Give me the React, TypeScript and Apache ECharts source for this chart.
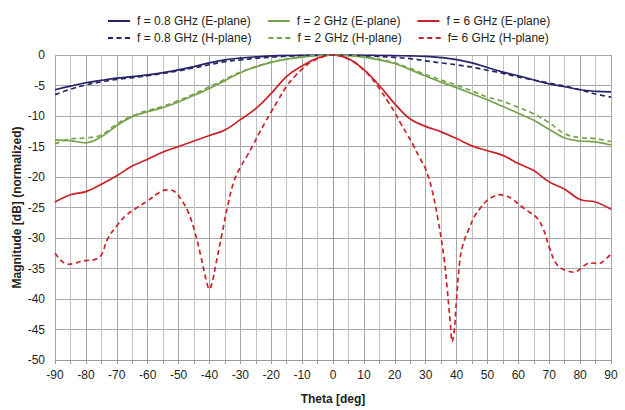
import React, { useEffect, useRef } from "react";
import * as echarts from "echarts";

const theta5 = [-90, -85, -80, -75, -70, -65, -60, -55, -50, -45, -40, -35, -30, -25, -20, -15, -10, -5, 0, 5, 10, 15, 20, 25, 30, 35, 40, 45, 50, 55, 60, 65, 70, 75, 80, 85, 90];

const e08 = [-5.7, -5.1, -4.55, -4.15, -3.8, -3.55, -3.25, -2.9, -2.45, -1.9, -1.3, -0.8, -0.5, -0.3, -0.15, -0.07, -0.03, 0, 0, -0.01, -0.02, -0.05, -0.1, -0.15, -0.22, -0.42, -0.75, -1.3, -2.05, -2.8, -3.4, -4.1, -4.75, -5.2, -5.7, -5.95, -6.05];
const h08 = [-6.5, -5.6, -4.9, -4.4, -4.0, -3.7, -3.4, -3.0, -2.6, -2.1, -1.6, -1.1, -0.8, -0.55, -0.35, -0.2, -0.08, -0.02, 0, -0.02, -0.12, -0.25, -0.4, -0.6, -0.95, -1.3, -1.6, -2.0, -2.5, -3.0, -3.6, -4.1, -4.6, -5.1, -5.7, -6.4, -6.9];
const e2 = [-13.9, -14.05, -14.4, -13.4, -11.6, -10.1, -9.3, -8.6, -7.7, -6.6, -5.5, -4.2, -2.9, -1.95, -1.2, -0.7, -0.35, -0.1, 0, -0.1, -0.35, -0.8, -1.4, -2.4, -3.45, -4.45, -5.35, -6.35, -7.35, -8.45, -9.55, -10.7, -12.2, -13.6, -14.1, -14.25, -14.75];
const h2 = [-14.6, -13.75, -13.6, -13.1, -11.3, -10.0, -9.1, -8.4, -7.45, -6.4, -5.2, -4.0, -2.8, -1.9, -1.15, -0.65, -0.3, -0.08, 0, -0.08, -0.3, -0.7, -1.3, -2.2, -3.2, -4.1, -4.95, -5.9, -6.9, -7.6, -8.6, -9.65, -11.1, -12.9, -13.55, -13.7, -14.2];
const e6 = [-24.1, -22.9, -22.4, -21.2, -19.8, -18.2, -17.1, -15.9, -15.0, -14.1, -13.2, -12.3, -10.6, -8.8, -6.3, -3.5, -1.8, -0.5, 0, -0.6, -2.4, -5.0, -8.0, -10.5, -11.7, -12.6, -13.7, -14.9, -15.7, -16.45, -17.8, -18.95, -20.8, -22.0, -23.7, -24.1, -25.3];

const thetaH6 = [-90, -88, -86, -84, -82, -80, -77, -75, -73, -70, -67, -64, -60, -57, -55, -53, -51, -49, -47, -45, -43, -41, -40, -39, -38, -36, -34, -32, -30, -28, -26, -24, -22, -20, -18, -15, -12, -10, -7, -4, -2, 0, 2, 4, 7, 10, 12, 15, 18, 20, 22, 24, 26, 28, 30, 32, 34, 36, 37, 38, 38.6, 39.2, 40, 41, 42, 44, 46, 48, 50, 52, 54, 56, 58, 60, 62, 64, 66, 68, 70, 72, 74, 76, 78, 80, 82, 84, 86, 88, 90];
const h6 = [-32.5, -33.7, -34.3, -34.2, -33.9, -33.7, -33.5, -32.8, -30.2, -28.0, -26.3, -25.2, -23.9, -22.8, -22.2, -22.1, -22.5, -23.8, -25.6, -28.5, -32.5, -37.0, -38.4, -37.0, -34.5, -29.5, -24.5, -20.6, -18.4, -16.7, -14.9, -12.9, -11.1, -9.3, -7.6, -5.1, -3.3, -2.3, -1.1, -0.45, -0.1, 0, -0.1, -0.45, -1.2, -2.5, -3.5, -5.5, -7.8, -9.4, -11.3, -13.0, -14.8, -16.8, -18.7, -22.0, -27.0, -33.5, -38.5, -44.0, -47.0, -45.5, -40.0, -34.0, -31.2, -28.5, -26.3, -24.9, -23.8, -23.2, -22.9, -23.1, -23.6, -24.4, -25.2, -25.9, -26.7, -28.4, -31.5, -34.0, -35.0, -35.4, -35.6, -35.1, -34.3, -34.1, -34.2, -33.6, -32.6];

const names = [
  "f = 0.8 GHz (E-plane)",
  "f = 2 GHz (E-plane)",
  "f = 6 GHz (E-plane)",
  "f = 0.8 GHz (H-plane)",
  "f = 2 GHz (H-plane)",
  "f= 6 GHz (H-plane)",
];
const NAVY = "#262467";
const GREEN = "#76a34b";
const RED = "#cb2229";

export default function App() {
  const ref = useRef<HTMLDivElement>(null);
  useEffect(() => {
    if (!ref.current) return;
    const chart = echarts.init(ref.current, null, { renderer: "svg" });
    const pair = (xs: number[], ys: number[]) => xs.map((x, i) => [x, ys[i]]);
    const mk = (name: string, data: number[][], color: string, dashed: boolean) => ({
      name,
      type: "line",
      data,
      smooth: 0.4,
      symbol: "none",
      lineStyle: { color, width: 1.7, type: dashed ? [5, 3.5] : "solid" },
      itemStyle: { color },
    });
    const font = "'Liberation Sans', Arial, Helvetica, sans-serif";
    const legendBase = {
      left: 102,
      itemWidth: 22,
      itemHeight: 14,
      itemGap: 16,
      itemStyle: { opacity: 0 },
      textStyle: { fontSize: 12, color: "#231f20", fontFamily: font, padding: [0, 0, 0, 2] },
    };
    chart.setOption({
      animation: false,
      textStyle: { fontFamily: font },
      legend: [
        { ...legendBase, data: names.slice(0, 3), top: 10 },
        { ...legendBase, data: names.slice(3), top: 27 },
      ],
      grid: { left: 55, right: 14, top: 55, bottom: 46, containLabel: false },
      xAxis: {
        type: "value",
        min: -90,
        max: 90,
        interval: 10,
        name: "Theta [deg]",
        nameLocation: "middle",
        nameGap: 33,
        nameMoveOverlap: false,
        nameTextStyle: { fontSize: 12, fontWeight: "bold", color: "#231f20", fontFamily: font },
        axisLine: { onZero: false, lineStyle: { color: "#9a9a9a" } },
        axisTick: { show: true, length: 4, lineStyle: { color: "#9a9a9a" } },
        minorTick: { show: true, splitNumber: 2, length: 4, lineStyle: { color: "#9a9a9a" } },
        axisLabel: { fontSize: 12, color: "#231f20", margin: 9, fontFamily: font },
        splitLine: { show: true, lineStyle: { color: "#a8a8a8", width: 1 } },
        minorSplitLine: { show: true, lineStyle: { color: "#c4c4c4", width: 1 } },
      },
      yAxis: {
        type: "value",
        min: -50,
        max: 0,
        interval: 5,
        name: "Magnitude [dB] (normalized)",
        nameLocation: "middle",
        nameGap: 32,
        nameMoveOverlap: false,
        nameTextStyle: { fontSize: 12, fontWeight: "bold", color: "#231f20", fontFamily: font },
        axisLine: { show: true, lineStyle: { color: "#9a9a9a" } },
        axisTick: { show: true, length: 4, lineStyle: { color: "#9a9a9a" } },
        axisLabel: { fontSize: 12, color: "#231f20", margin: 10, fontFamily: font },
        splitLine: { show: true, lineStyle: { color: "#a8a8a8", width: 1 } },
      },
      series: [
        mk(names[0], pair(theta5, e08), NAVY, false),
        mk(names[1], pair(theta5, e2), GREEN, false),
        mk(names[2], pair(theta5, e6), RED, false),
        mk(names[3], pair(theta5, h08), NAVY, true),
        mk(names[4], pair(theta5, h2), GREEN, true),
        mk(names[5], pair(thetaH6, h6), RED, true),
      ],
    });
    return () => chart.dispose();
  }, []);
  return (
    <div
      ref={ref}
      style={{ position: "absolute", left: 0, top: 0, width: 625, height: 410 }}
    />
  );
}
